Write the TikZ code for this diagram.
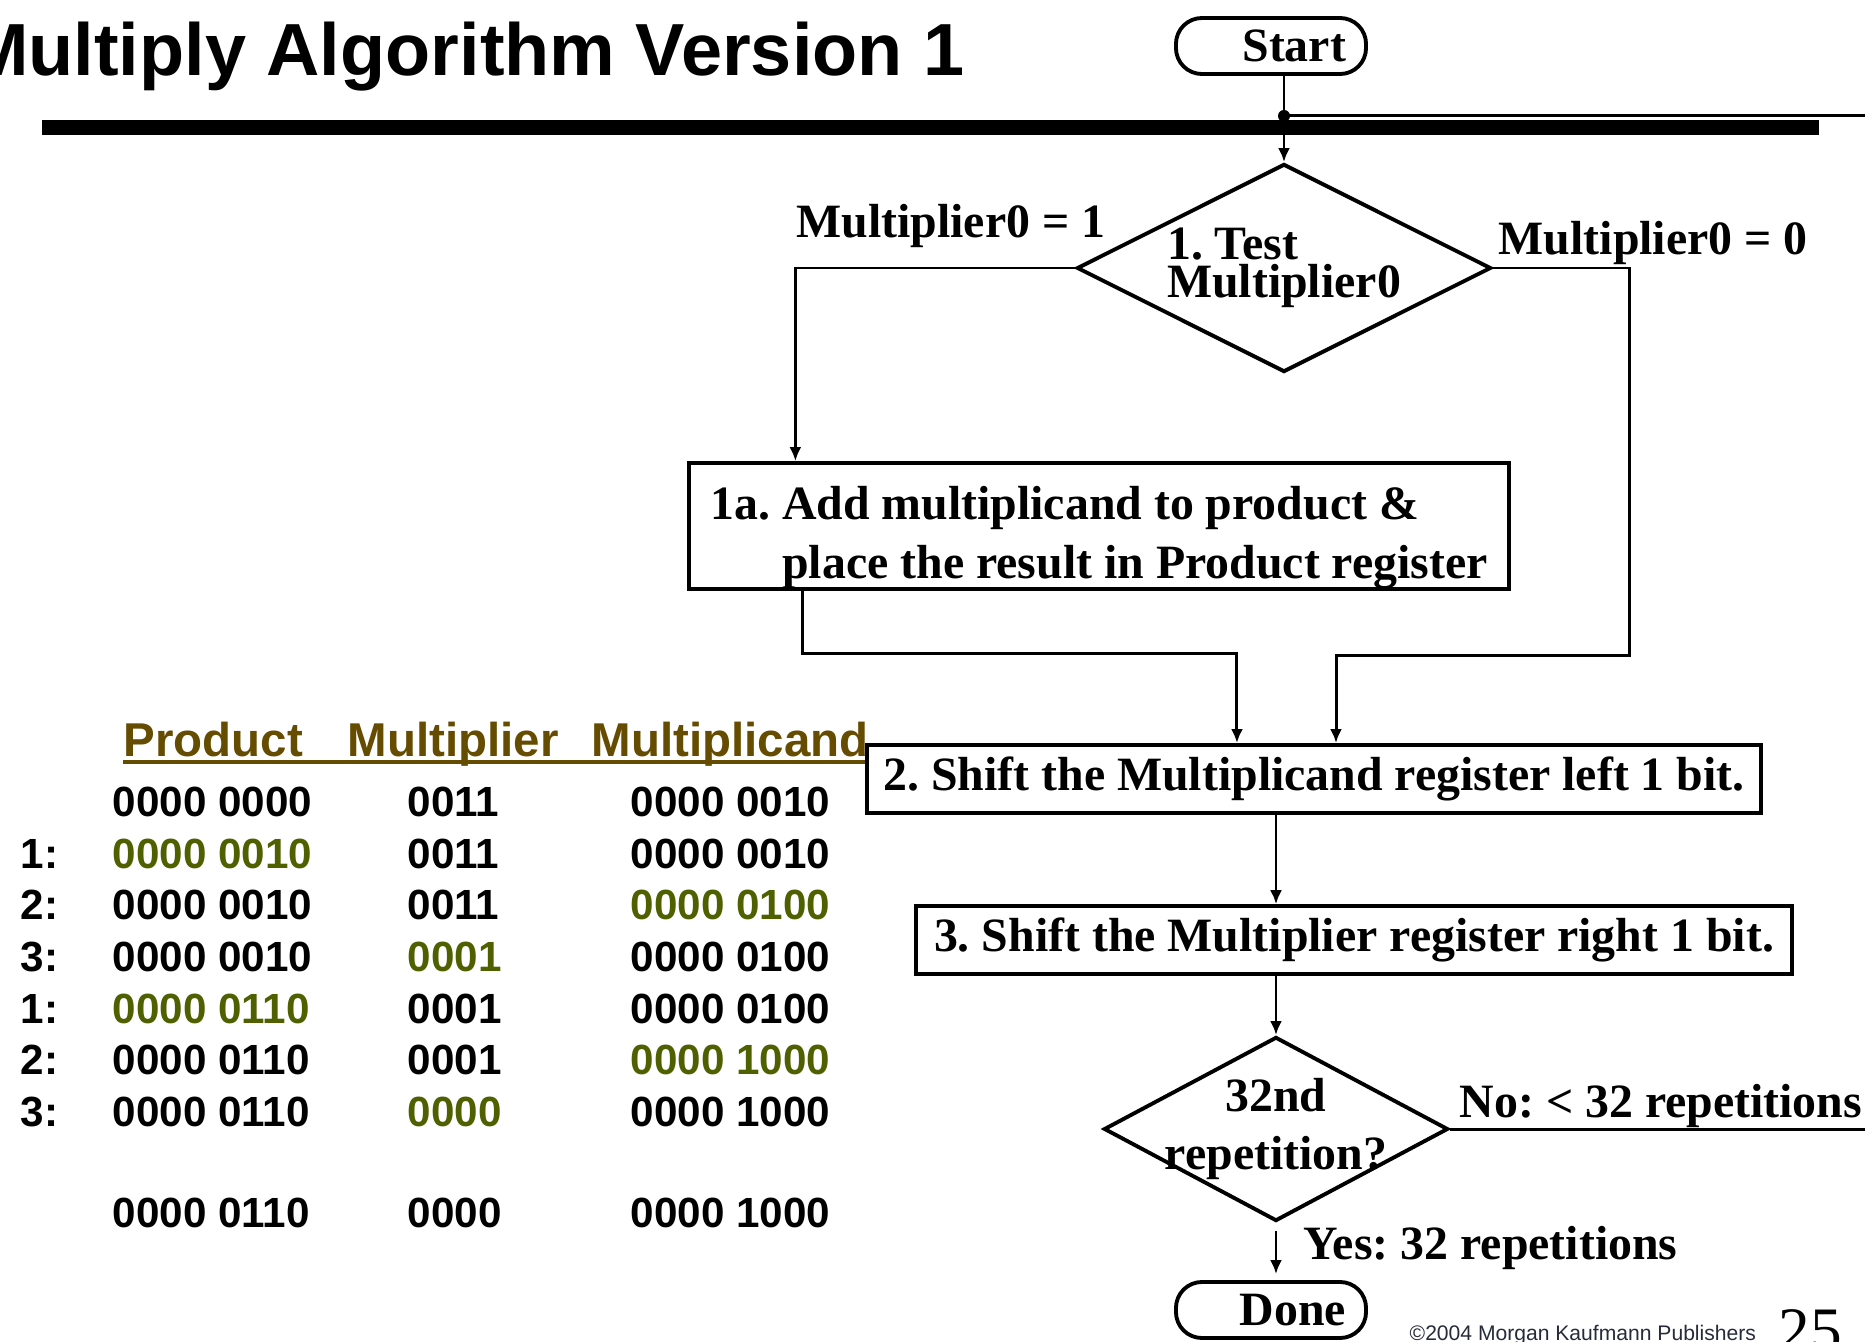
\documentclass[tikz,border=0pt]{standalone}
\usepackage{fontspec}
\setmainfont{Liberation Serif}
\newfontfamily\slidefont{Liberation Sans}
\usetikzlibrary{arrows.meta,positioning,shapes.geometric,calc}
\definecolor{headbrown}{HTML}{664C00}
\definecolor{stepgreen}{HTML}{4E6000}
\definecolor{footgray}{HTML}{262A3A}
\frenchspacing

\begin{document}
\begin{tikzpicture}[x=0.01cm, y=-0.01cm,
  stepbox/.style={rectangle, draw, line width=1.1pt, inner xsep=0.15cm,
                  font=\fontsize{13.6}{16.8}\selectfont\bfseries},
  terminal/.style={rectangle, rounded corners=0.26cm, draw, line width=1.1pt,
                   minimum height=0.56cm, inner xsep=0.2cm, text width=1.5cm,
                   align=right, font=\fontsize{13.6}{16}\selectfont\bfseries},
  decision/.style={diamond, draw, line width=1.1pt, aspect=2, inner sep=-1mm},
  flow/.style={line width=0.85pt, -{Latex[length=1.4mm,width=1.2mm]}},
  link/.style={line width=0.85pt},
  cond/.style={font=\fontsize{13.6}{16}\selectfont\bfseries, inner sep=0pt},
  colhead/.style={font=\slidefont\fontsize{13.5}{16}\selectfont\bfseries,
                  text=headbrown, anchor=base west, inner sep=0pt},
  cell/.style={font=\slidefont\fontsize{12}{14}\selectfont\bfseries,
               anchor=base west, inner sep=0pt},
  newcell/.style={cell, text=stepgreen}
]
\clip (0,0) rectangle (1865,1342);

% slide title and bar
\node[font=\slidefont\fontsize{21}{25}\selectfont\bfseries, anchor=base east,
      inner sep=0pt] (title) at (965,75) {Multiply Algorithm Version 1};
\fill (42,120) rectangle (1819,135);

% flowchart
\node[terminal] (start) at (1271,46) {Start};
\node[decision, minimum width=4.14cm, minimum height=2.08cm, align=left,
      font=\fontsize{13.6}{10.8}\selectfont\bfseries] (test) at (1284,268)
      {1. Test\\Multiplier0};
\node[stepbox, minimum width=8.19cm, minimum height=1.24cm, inner ysep=0pt,
      align=left] (add) at (1099,526)
      {\rule{0pt}{16pt}1a. Add multiplicand to product \&\\
       \hspace*{0.72cm}place the result in Product register};
\node[stepbox, minimum width=8.94cm, minimum height=0.68cm] (shl) at (1314,779)
      {2. Shift the Multiplicand register left 1 bit.};
\node[stepbox, minimum width=8.75cm, minimum height=0.62cm] (shr) at (1354,940)
      {3. Shift the Multiplier register right 1 bit.};
\node[decision, minimum width=3.44cm, minimum height=1.84cm, inner sep=-2mm,
      align=center, font=\fontsize{13.6}{16.5}\selectfont\bfseries] (rep)
      at (1276,1129) {32nd\\repetition?};
\node[terminal] (done) at (1271,1310) {Done};

\coordinate (join) at ([yshift=0.46cm]test.north);
\draw[flow] (start.south -| join) -- (test.north);
\fill (join) circle (0.06cm);
\draw[flow] (test.west) -| ([xshift=1.08cm]add.north west);
\draw[flow] ([xshift=1.15cm]add.south west) -- ++(0cm,-0.63cm)
            -| ([xshift=-0.77cm]shl.north);
\draw[flow] (test.east) -- ++(1.36cm,0cm) -- ++(0cm,-3.87cm)
            -| ([xshift=0.22cm]shl.north);
\draw[flow] (shl.south -| rep.north) -- (shr.north -| rep.north);
\draw[flow] (shr.south -| rep.north) -- (rep.north);
\draw[flow, shorten <=0.08cm, shorten >=0.06cm] (rep.south) -- (rep.south |- done.north);
\draw[link] (rep.east) -- ++(4.4cm,0cm) |- (join);

\node[cond, anchor=base east] (isone) at ([shift={(0.31cm,0.30cm)}]test.west)
      {Multiplier0 = 1};
\node[cond, anchor=base west] (iszero) at ([shift={(0.05cm,0.13cm)}]test.east)
      {Multiplier0 = 0};
\node[cond, anchor=base west] (notyet) at ([shift={(0.09cm,0.12cm)}]rep.east)
      {No: < 32 repetitions};
\node[cond, anchor=base west] (finished) at ([shift={(0.27cm,-0.36cm)}]rep.south)
      {Yes: 32 repetitions};

% trace table
\node[colhead] (hprod) at (123,756) {Product};
\node[colhead] (hmlr) at (347,756) {Multiplier};
\node[colhead] (hmcd) at (591,756) {Multiplicand};
\draw[headbrown, line width=1pt] ([yshift=-0.06cm]hprod.base west)
      -- ([yshift=-0.06cm]hprod.base west -| shl.west);

\node[cell] (p0) at (112,816) {0000 0000};
\node[cell] (m0) at (407,816) {0011};
\node[cell] (c0) at (630,816) {0000 0010};
% first pass
\node[cell] (s1) at (20,868) {1:};
\node[newcell] (p1) at (112,868) {0000 0010};
\node[cell] (m1) at (407,868) {0011};
\node[cell] (c1) at (630,868) {0000 0010};
\node[cell] (s2) at (20,919) {2:};
\node[cell] (p2) at (112,919) {0000 0010};
\node[cell] (m2) at (407,919) {0011};
\node[newcell] (c2) at (630,919) {0000 0100};
\node[cell] (s3) at (20,971) {3:};
\node[cell] (p3) at (112,971) {0000 0010};
\node[newcell] (m3) at (407,971) {0001};
\node[cell] (c3) at (630,971) {0000 0100};
% second pass
\node[cell] (s4) at (20,1023) {1:};
\node[newcell] (p4) at (112,1023) {0000 0110};
\node[cell] (m4) at (407,1023) {0001};
\node[cell] (c4) at (630,1023) {0000 0100};
\node[cell] (s5) at (20,1074) {2:};
\node[cell] (p5) at (112,1074) {0000 0110};
\node[cell] (m5) at (407,1074) {0001};
\node[newcell] (c5) at (630,1074) {0000 1000};
\node[cell] (s6) at (20,1126) {3:};
\node[cell] (p6) at (112,1126) {0000 0110};
\node[newcell] (m6) at (407,1126) {0000};
\node[cell] (c6) at (630,1126) {0000 1000};
% result
\node[cell] (pf) at (112,1227) {0000 0110};
\node[cell] (mf) at (407,1227) {0000};
\node[cell] (cf) at (630,1227) {0000 1000};

% footer
\node[font=\slidefont\fontsize{6}{7}\selectfont, text=footgray, anchor=base west,
      inner sep=0pt] (credit) at (1409,1340) {©2004 Morgan Kaufmann Publishers};
\node[font=\fontsize{18}{20}\selectfont, anchor=base west, inner sep=0pt]
      (pageno) at (1778,1351) {25};
\end{tikzpicture}
\end{document}
